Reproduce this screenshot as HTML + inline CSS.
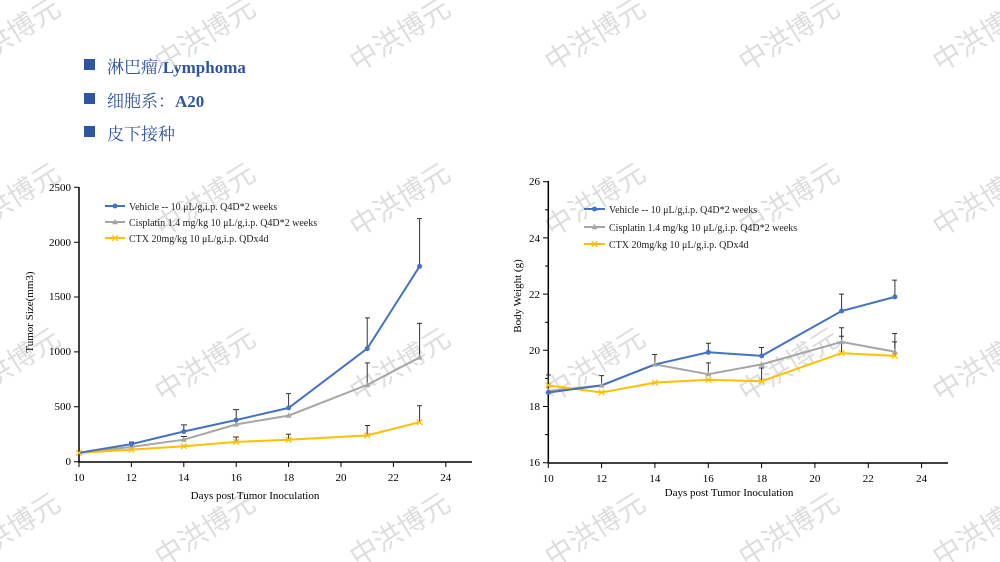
<!DOCTYPE html>
<html><head><meta charset="utf-8"><style>
body{margin:0;width:1000px;height:562px;background:#fff;overflow:hidden;position:relative;font-family:"Liberation Serif","Noto Serif CJK SC",serif}
.h{position:absolute;left:84px;font-size:17px;color:#2f55a0;font-weight:normal}
.h b{font-weight:bold}
.h:before{content:"";position:absolute;left:0;top:6px;width:11px;height:11px;background:#2f55a0}
.h span{margin-left:23px}
svg{position:absolute;left:0;top:0}
</style></head><body>
<div class="h" style="top:53px"><span>淋巴瘤/<b>Lymphoma</b></span></div>
<div class="h" style="top:87px"><span>细胞系：<b>A20</b></span></div>
<div class="h" style="top:120px"><span>皮下接种</span></div>
<svg width="1000" height="562" font-family="Liberation Serif, serif">
<defs>
<path id="tri" d="M0 -3.2L3 2.2H-3Z" fill="#a6a6a6"/>
<path id="xx" d="M-2.8 -2.8L2.8 2.8M-2.8 2.8L2.8 -2.8" stroke="#ffc000" stroke-width="1.3"/>
</defs>
<!-- watermarks -->
<g font-family="Noto Sans CJK SC, sans-serif" font-size="28" fill="#c8c8c8" fill-opacity="0.6" text-anchor="middle">
<text transform="translate(15 43) rotate(-32)">中洪博元</text><text transform="translate(210 43) rotate(-32)">中洪博元</text><text transform="translate(405 43) rotate(-32)">中洪博元</text><text transform="translate(600 43) rotate(-32)">中洪博元</text><text transform="translate(794 43) rotate(-32)">中洪博元</text><text transform="translate(988 43) rotate(-32)">中洪博元</text>
<text transform="translate(15 208) rotate(-32)">中洪博元</text><text transform="translate(210 208) rotate(-32)">中洪博元</text><text transform="translate(405 208) rotate(-32)">中洪博元</text><text transform="translate(600 208) rotate(-32)">中洪博元</text><text transform="translate(794 208) rotate(-32)">中洪博元</text><text transform="translate(988 208) rotate(-32)">中洪博元</text>
<text transform="translate(15 373) rotate(-32)">中洪博元</text><text transform="translate(210 373) rotate(-32)">中洪博元</text><text transform="translate(405 373) rotate(-32)">中洪博元</text><text transform="translate(600 373) rotate(-32)">中洪博元</text><text transform="translate(794 373) rotate(-32)">中洪博元</text><text transform="translate(988 373) rotate(-32)">中洪博元</text>
<text transform="translate(15 538) rotate(-32)">中洪博元</text><text transform="translate(210 538) rotate(-32)">中洪博元</text><text transform="translate(405 538) rotate(-32)">中洪博元</text><text transform="translate(600 538) rotate(-32)">中洪博元</text><text transform="translate(794 538) rotate(-32)">中洪博元</text><text transform="translate(988 538) rotate(-32)">中洪博元</text>
</g>
<g stroke="#000" stroke-width="1" fill="none">
<path d="M79 187V462H472" stroke-width="1.5"/>
<path d="M74 461.7H79M74 406.8H79M74 351.9H79M74 297H79M74 242.2H79M74 187.3H79"/>
<path d="M79 462V467M131.4 462V467M183.8 462V467M236.2 462V467M288.6 462V467M341 462V467M393.4 462V467M445.8 462V467"/>
<path d="M548.3 181V463H948" stroke-width="1.5"/>
<path d="M543 462.7H548M543 406.5H548M543 350.3H548M543 294.1H548M543 237.9H548M543 181.7H548M545 434.6H548M545 378.4H548M545 322.2H548M545 266H548M545 209.8H548"/>
<path d="M548.3 463V468M601.6 463V468M654.9 463V468M708.3 463V468M761.6 463V468M814.9 463V468M868.3 463V468M921.6 463V468"/>
</g>
<g font-size="11" text-anchor="end" fill="#000">
<text x="71" y="465">0</text><text x="71" y="410">500</text><text x="71" y="355">1000</text><text x="71" y="300">1500</text><text x="71" y="246">2000</text><text x="71" y="191">2500</text>
<text x="540" y="466">16</text><text x="540" y="410">18</text><text x="540" y="354">20</text><text x="540" y="298">22</text><text x="540" y="242">24</text><text x="540" y="185">26</text>
</g>
<g font-size="11" text-anchor="middle">
<text x="79" y="481">10</text><text x="131.4" y="481">12</text><text x="183.8" y="481">14</text><text x="236.2" y="481">16</text><text x="288.6" y="481">18</text><text x="341" y="481">20</text><text x="393.4" y="481">22</text><text x="445.8" y="481">24</text>
<text x="548.3" y="482">10</text><text x="601.6" y="482">12</text><text x="654.9" y="482">14</text><text x="708.3" y="482">16</text><text x="761.6" y="482">18</text><text x="814.9" y="482">20</text><text x="868.3" y="482">22</text><text x="921.6" y="482">24</text>
<text x="255" y="499">Days post Tumor Inoculation</text>
<text x="729" y="496">Days post Tumor Inoculation</text>
<text transform="translate(33 312) rotate(-90)">Tumor Size(mm3)</text>
<text transform="translate(521 296) rotate(-90)">Body Weight (g)</text>
</g>
<g stroke="#333" stroke-width="1">
<path d="M131.4 444V442M129 442H134M183.8 431.5V424.9M181 424.9H187M236.2 420V409.6M233 409.6H239M288.6 408V393.6M286 393.6H291M367.2 348.6V317.9M365 317.9H370M419.6 266V218.6M417 218.6H422"/>
<path d="M183.8 439.7V436.5M181 436.5H187M367.2 385V362.9M365 362.9H370M419.6 357V323.4M417 323.4H422"/>
<path d="M236.2 442V437M233 437H239M288.6 440V434.3M286 434.3H291M367.2 435V425.5M365 425.5H370M419.6 422V405.7M417 405.7H422"/>
<path d="M708.3 352V343.3M706 343.3H711M761.6 356V347.5M759 347.5H764M841.6 311V294.1M839 294.1H844M894.9 297V280.1M892 280.1H897M654.9 364V354.5M652 354.5H657"/>
<path d="M708.3 374V362.9M706 362.9H711M841.6 342V327.8M839 327.8H844M894.9 352V333.5M892 333.5H897M601.6 385V375.6M599 375.6H604M548.3 390V375M546 375H551"/>
<path d="M841.6 353V336.2M839 336.2H844M894.9 356V341.9M892 341.9H897M761.6 381V368M759 368H764"/>
</g>
<polyline fill="none" stroke="#a6a6a6" stroke-width="2" points="79,452.9 131.4,446.9 183.8,439.7 236.2,424.4 288.6,415.6 367.2,384.9 419.6,357.4"/>
<polyline fill="none" stroke="#ffc000" stroke-width="2" points="79,452.9 131.4,449.6 183.8,446.3 236.2,441.9 288.6,439.7 367.2,435.4 419.6,422.2"/>
<polyline fill="none" stroke="#4472c4" stroke-width="2" points="79,452.9 131.4,444.1 183.8,431.5 236.2,420 288.6,407.9 367.2,348.6 419.6,266.3"/>
<use href="#tri" x="131.4" y="446.9"/><use href="#tri" x="183.8" y="439.7"/><use href="#tri" x="236.2" y="424.4"/><use href="#tri" x="288.6" y="415.6"/><use href="#tri" x="367.2" y="384.9"/><use href="#tri" x="419.6" y="357.4"/>
<use href="#xx" x="79" y="452.9"/><use href="#xx" x="131.4" y="449.6"/><use href="#xx" x="183.8" y="446.3"/><use href="#xx" x="236.2" y="441.9"/><use href="#xx" x="288.6" y="439.7"/><use href="#xx" x="367.2" y="435.4"/><use href="#xx" x="419.6" y="422.2"/>
<g fill="#4472c4"><circle cx="131.4" cy="444.1" r="2.5"/><circle cx="183.8" cy="431.5" r="2.5"/><circle cx="236.2" cy="420" r="2.5"/><circle cx="288.6" cy="407.9" r="2.5"/><circle cx="367.2" cy="348.6" r="2.5"/><circle cx="419.6" cy="266.3" r="2.5"/></g>
<polyline fill="none" stroke="#a6a6a6" stroke-width="2" points="548.3,391 601.6,385.4 654.9,364.4 708.3,374.2 761.6,364.4 841.6,341.9 894.9,351.7"/>
<polyline fill="none" stroke="#ffc000" stroke-width="2" points="548.3,385.4 601.6,392.5 654.9,382.6 708.3,379.8 761.6,381.2 841.6,353.1 894.9,355.9"/>
<polyline fill="none" stroke="#4472c4" stroke-width="2" points="548.3,392.5 601.6,385.4 654.9,364.4 708.3,352.3 761.6,355.9 841.6,311 894.9,296.9"/>
<use href="#tri" x="548.3" y="391"/><use href="#tri" x="601.6" y="385.4"/><use href="#tri" x="654.9" y="364.4"/><use href="#tri" x="708.3" y="374.2"/><use href="#tri" x="761.6" y="364.4"/><use href="#tri" x="841.6" y="341.9"/><use href="#tri" x="894.9" y="351.7"/>
<use href="#xx" x="548.3" y="385.4"/><use href="#xx" x="601.6" y="392.5"/><use href="#xx" x="654.9" y="382.6"/><use href="#xx" x="708.3" y="379.8"/><use href="#xx" x="761.6" y="381.2"/><use href="#xx" x="841.6" y="353.1"/><use href="#xx" x="894.9" y="355.9"/>
<g fill="#4472c4"><circle cx="548.3" cy="392.5" r="2.5"/><circle cx="708.3" cy="352.3" r="2.5"/><circle cx="761.6" cy="355.9" r="2.5"/><circle cx="841.6" cy="311" r="2.5"/><circle cx="894.9" cy="296.9" r="2.5"/></g>
<g stroke-width="2">
<path d="M105 206H125" stroke="#4472c4"/><path d="M105 222H125" stroke="#a6a6a6"/><path d="M105 238H125" stroke="#ffc000"/>
<path d="M584 209H605" stroke="#4472c4"/><path d="M584 227H605" stroke="#a6a6a6"/><path d="M584 244H605" stroke="#ffc000"/>
</g>
<circle cx="115" cy="206" r="2.5" fill="#4472c4"/><use href="#tri" x="115" y="222"/><use href="#xx" x="115" y="238"/>
<circle cx="594.5" cy="209" r="2.5" fill="#4472c4"/><use href="#tri" x="594.5" y="227"/><use href="#xx" x="594.5" y="244"/>
<g font-size="10" fill="#222">
<text x="129" y="210">Vehicle -- 10 μL/g,i.p. Q4D*2 weeks</text>
<text x="129" y="226">Cisplatin 1.4 mg/kg 10 μL/g,i.p. Q4D*2 weeks</text>
<text x="129" y="242">CTX 20mg/kg 10 μL/g,i.p. QDx4d</text>
<text x="609" y="213">Vehicle -- 10 μL/g,i.p. Q4D*2 weeks</text>
<text x="609" y="231">Cisplatin 1.4 mg/kg 10 μL/g,i.p. Q4D*2 weeks</text>
<text x="609" y="248">CTX 20mg/kg 10 μL/g,i.p. QDx4d</text>
</g>
</svg>
</body></html>
